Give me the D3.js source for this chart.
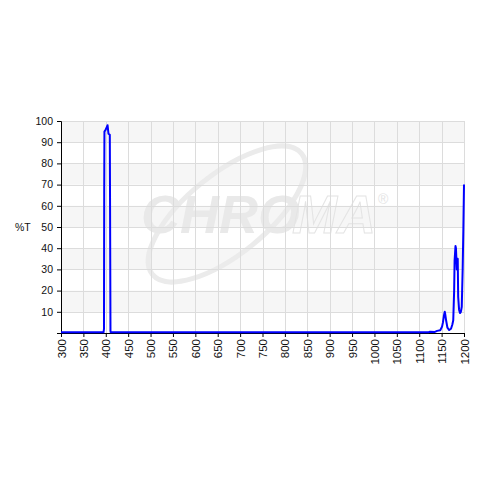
<!DOCTYPE html>
<html>
<head>
<meta charset="utf-8">
<script src="https://cdn.jsdelivr.net/npm/d3@7"></script>
<style>
  body { margin: 0; background: #fff; }
  text { font-family: Arial, "Liberation Sans", sans-serif; }
</style>
</head>
<body>
<div id="chart"></div>
<script>
// wavelength (nm) and transmission (%T)
var wavelength = [300, 395, 396, 396.5, 397, 400, 403, 404, 405, 406, 409, 409.5, 410.5, 411,
    1120, 1124, 1135, 1140, 1147, 1151, 1153, 1155, 1157, 1158, 1160, 1163, 1167, 1171, 1174, 1176,
    1178, 1179, 1181, 1182, 1184, 1186, 1187, 1189, 1191, 1193, 1195, 1197, 1198.5, 1200];
var transmission = [0.3, 0.3, 2, 66, 95, 96, 97.5, 98, 96, 94, 93.5, 64, 1, 0.3,
    0.3, 0.6, 0.5, 1, 1.3, 3, 5, 8, 10, 9, 6, 2.5, 1.4, 2, 4, 6,
    20, 34, 41, 40, 30, 35, 17, 11, 9.4, 10, 12.4, 30, 48, 70];

var xTicks = d3.range(300, 1201, 50);
var yTicks = d3.range(10, 101, 10);

var margin = { top: 121, right: 16, bottom: 147, left: 61 },
    width = 480 - margin.left - margin.right,
    height = 480 - margin.top - margin.bottom;

var svg = d3.select("#chart")
    .append("svg")
    .attr("width", 480)
    .attr("height", 480)
    .append("g")
    .attr("transform", "translate(" + margin.left + "," + margin.top + ")");

var x = d3.scaleLinear().domain([300, 1200]).range([0, width]);
var y = d3.scaleLinear().domain([0, 100]).range([height, 0]);

// alternating row bands
svg.append("g")
    .selectAll("rect")
    .data(d3.range(10, 100, 20))
    .enter()
    .append("rect")
    .attr("x", 0)
    .attr("width", width)
    .attr("y", function (d) { return y(d + 10); })
    .attr("height", function (d) { return y(d) - y(d + 10); })
    .style("fill", "#f6f6f6");

// watermark
var wm = svg.append("g").attr("transform", "translate(" + (-margin.left) + "," + (-margin.top) + ")");
wm.append("ellipse")
    .attr("cx", 227).attr("cy", 214)
    .attr("rx", 96).attr("ry", 40)
    .attr("transform", "rotate(-39,227,214)")
    .style("fill", "none")
    .style("stroke", "#ebebeb")
    .style("stroke-width", 5);
wm.append("text")
    .attr("x", 141).attr("y", 233)
    .style("font-size", "54px").style("font-weight", "bold").style("font-style", "italic")
    .style("fill", "#e9e9e9")
    .text("CHRO");
wm.append("text")
    .attr("x", 292).attr("y", 233)
    .style("font-size", "54px").style("font-weight", "bold").style("font-style", "italic")
    .style("fill", "none").style("stroke", "#e4e4e4").style("stroke-width", 1)
    .text("MA");
wm.append("text")
    .attr("x", 378).attr("y", 204)
    .style("font-size", "14px")
    .style("fill", "#e4e4e4")
    .text("®");

// grid lines
svg.append("g")
    .selectAll("line")
    .data(yTicks)
    .enter()
    .append("line")
    .attr("x1", 0).attr("x2", width)
    .attr("y1", function (d) { return Math.round(y(d)) + 0.5; })
    .attr("y2", function (d) { return Math.round(y(d)) + 0.5; })
    .style("stroke", "#dcdcdc");
svg.append("g")
    .selectAll("line")
    .data(xTicks.slice(1))
    .enter()
    .append("line")
    .attr("y1", 0).attr("y2", height)
    .attr("x1", function (d) { return Math.round(x(d)) + 0.5; })
    .attr("x2", function (d) { return Math.round(x(d)) + 0.5; })
    .style("stroke", "#dcdcdc");

// Y axis
var yAxis = svg.append("g")
    .call(d3.axisLeft(y).tickValues(yTicks).tickSize(4).tickPadding(4).tickFormat(d3.format("d")));
// X axis
var xAxis = svg.append("g")
    .attr("transform", "translate(0," + height + ")")
    .call(d3.axisBottom(x).tickValues(xTicks).tickSize(4).tickSizeOuter(0).tickFormat(d3.format("d")));

xAxis.selectAll("text")
    .attr("transform", "rotate(-90)")
    .attr("text-anchor", "end")
    .attr("x", -6)
    .attr("y", 0)
    .attr("dy", "0.35em")
    .style("font-size", "11.5px");
yAxis.selectAll("text").style("font-size", "10.5px");

[yAxis, xAxis].forEach(function (a) {
    a.selectAll("text").style("fill", "#111");
    a.selectAll("line").style("stroke", "#000");
    a.select(".domain").style("stroke", "#000");
});

// Y axis label
svg.append("text")
    .attr("x", -46)
    .attr("y", y(50) + 4)
    .attr("text-anchor", "start")
    .style("font-size", "10.5px")
    .style("fill", "#111")
    .text("%T");

// line
var line = d3.line()
    .x(function (d) { return x(d[0]); })
    .y(function (d) { return y(d[1]); });

svg.append("path")
    .datum(d3.zip(wavelength, transmission))
    .attr("d", line)
    .style("fill", "none")
    .style("stroke", "#0000ff")
    .style("stroke-width", 2)
    .style("stroke-linejoin", "round");
</script>
</body>
</html>
